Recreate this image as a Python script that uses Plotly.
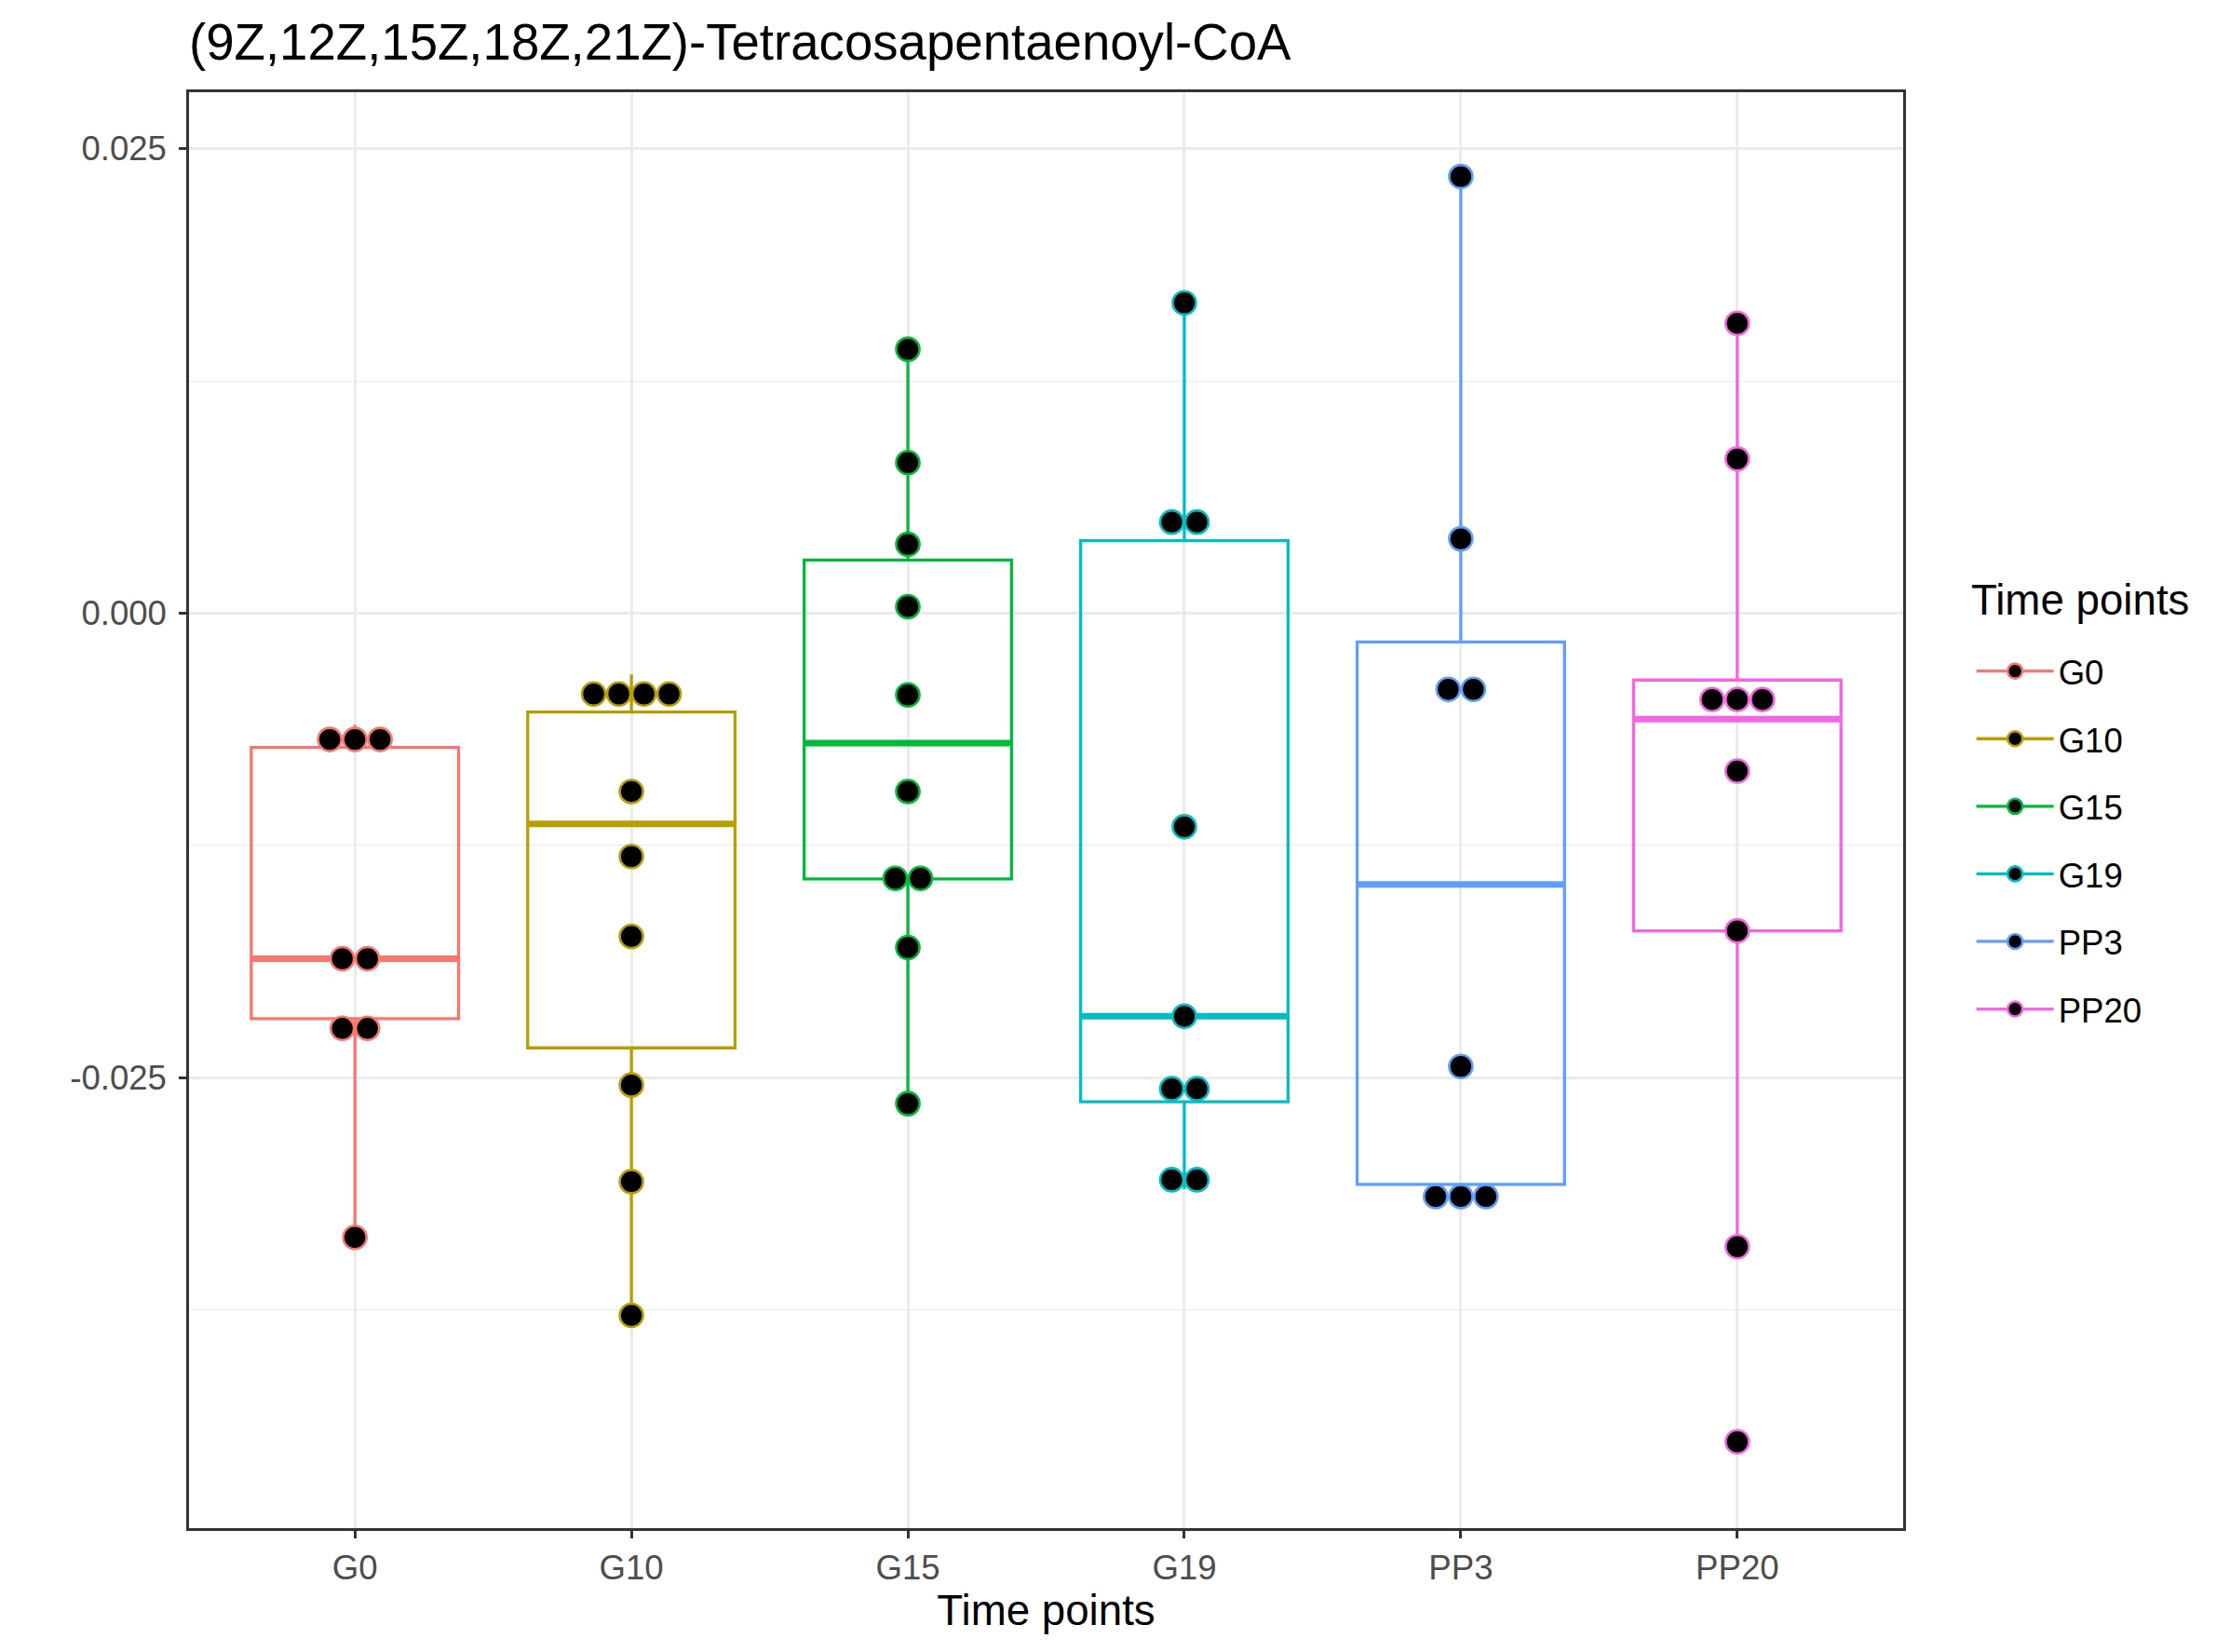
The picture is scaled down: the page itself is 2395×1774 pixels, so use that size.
import numpy as np
import plotly.graph_objects as go

# Time points and ggplot hue colours
categories = ["G0", "G10", "G15", "G19", "PP3", "PP20"]
colors = ["#F8766D", "#B79F00", "#00BA38", "#00BFC4", "#619CFF", "#F564E3"]

# values (one list per time point)
g0 = [-0.0336, -0.0234, -0.0213, -0.0190, -0.0182, -0.0076, -0.0061, -0.0060]
g10 = [-0.0378, -0.0306, -0.0254, -0.0174, -0.0131, -0.0096, -0.0054, -0.0053, -0.0045, -0.0033]
g15 = [-0.0264, -0.0180, -0.01435, -0.0142, -0.0096, -0.0044, 0.00035, 0.0037, 0.0081, 0.0142]
g19 = [-0.0310, -0.0300, -0.0263, -0.0249, -0.0217, -0.0115, 0.0039, 0.0059, 0.0167]
pp3 = [-0.0321, -0.0309, -0.0307, -0.0244, -0.0048, -0.0034, 0.0040, 0.0235]
pp20 = [-0.0446, -0.0341, -0.0171, -0.0085, -0.0057, -0.0047, -0.0036, 0.0083, 0.0156]
groups = [g0, g10, g15, g19, pp3, pp20]

y_ticks = [-0.025, 0.0, 0.025]
y_minor = [-0.0375, -0.0125, 0.0125]

FONT = "Liberation Sans, Arial, sans-serif"
BINWIDTH = 0.0025
DOT_STEP = 0.091
BOX_W = 0.75
W, H = 2387, 1766  # page body has an 8px margin


def dot_bins(vals, bw):
    # dot-density binning like geom_dotplot
    bins = []
    end = -np.inf
    for v in sorted(vals):
        if v >= end:
            bins.append([])
            end = v + bw
        bins[-1].append(v)
    return bins


def box_stats(vals):
    # R type 7 quartiles and 1.5*IQR whiskers, as ggplot does
    v = np.sort(np.asarray(vals))
    q1, med, q3 = np.percentile(v, [25, 50, 75])
    iqr = q3 - q1
    lo = v[v >= q1 - 1.5 * iqr].min()
    hi = v[v <= q3 + 1.5 * iqr].max()
    return q1, med, q3, lo, hi


fig = go.Figure()

for i, (name, vals, col) in enumerate(zip(categories, groups, colors)):
    q1, med, q3, lo, hi = box_stats(vals)
    fig.add_trace(go.Box(
        x=[i], q1=[q1], median=[med], q3=[q3], lowerfence=[lo], upperfence=[hi],
        name=name, width=BOX_W, showlegend=False,
        line=dict(color=col, width=3.3),
        fillcolor="rgba(0,0,0,0)", whiskerwidth=0, hoverinfo="skip",
    ))
    fig.add_trace(go.Scatter(
        x=[i - BOX_W / 2, i + BOX_W / 2], y=[med, med], mode="lines",
        line=dict(color=col, width=7), showlegend=False, hoverinfo="skip",
    ))

for i, (name, vals, col) in enumerate(zip(categories, groups, colors)):
    xs, ys = [], []
    for b in dot_bins(vals, BINWIDTH):
        c = (min(b) + max(b)) / 2
        k = len(b)
        for j in range(k):
            xs.append(i + (j - (k - 1) / 2) * DOT_STEP)
            ys.append(c)
    fig.add_trace(go.Scatter(
        x=xs, y=ys, mode="markers", showlegend=False, hoverinfo="skip",
        marker=dict(color="black", size=25, line=dict(color=col, width=2.6)),
    ))

# legend keys: coloured line with a black dot
for name, col in zip(categories, colors):
    fig.add_trace(go.Scatter(
        x=[None], y=[None], mode="lines+markers", name=name, legendgroup=name,
        line=dict(color=col, width=3.3),
        marker=dict(color="black", size=16, line=dict(color=col, width=2.6)),
    ))

fig.update_layout(
    width=W, height=H,
    margin=dict(l=195, r=351, t=91, b=133),
    paper_bgcolor="white", plot_bgcolor="white",
    font=dict(family=FONT, color="black"),
    title=dict(text="(9Z,12Z,15Z,18Z,21Z)-Tetracosapentaenoyl-CoA",
               x=195 / W, xanchor="left", xref="container",
               y=1 - 56 / H, yanchor="bottom", yref="container",
               pad=dict(l=0, r=0, t=0, b=0),
               font=dict(size=54.6, color="black", family=FONT)),
    legend=dict(font=dict(size=36.6), x=1.04, xanchor="left",
                y=0.6165, yanchor="top", tracegroupgap=22, itemwidth=83,
                bgcolor="rgba(0,0,0,0)"),
    annotations=[dict(text="Time points", x=1.0386, xref="paper", xanchor="left",
                      y=0.646, yref="paper", yanchor="middle", showarrow=False,
                      font=dict(size=45.7, color="black", family=FONT))],
    showlegend=True,
)

fig.update_xaxes(
    range=[-0.6, len(categories) - 0.4],
    tickmode="array", tickvals=list(range(len(categories))), ticktext=categories,
    showgrid=True, gridcolor="#EBEBEB", gridwidth=2.8, zeroline=False,
    showline=True, mirror=True, linecolor="#333333", linewidth=2.5,
    ticks="outside", ticklen=8, tickwidth=2.5, tickcolor="#333333",
    tickfont=dict(size=36.6, color="#4D4D4D", family=FONT),
    title=dict(text="Time points", font=dict(size=45.7, color="black"), standoff=7),
)

fig.update_yaxes(
    range=[-0.04925, 0.02804],
    tickmode="array", tickvals=y_ticks, ticktext=[f"{v:.3f}" for v in y_ticks],
    showgrid=True, gridcolor="#EBEBEB", gridwidth=2.8, zeroline=False,
    minor=dict(tickmode="array", tickvals=y_minor, showgrid=True,
               gridcolor="#EBEBEB", gridwidth=1.4, ticklen=0),
    showline=True, mirror=True, linecolor="#333333", linewidth=2.5,
    ticks="outside", ticklen=8, tickwidth=2.5, tickcolor="#333333",
    ticklabelstandoff=6,
    tickfont=dict(size=36.6, color="#4D4D4D", family=FONT),
)

fig.write_html("out.html")
